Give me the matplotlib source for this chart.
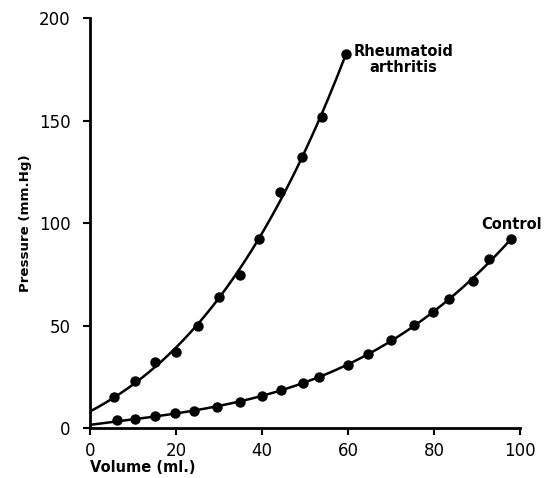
import numpy as np
import matplotlib
matplotlib.use("Agg")
import matplotlib.pyplot as plt

# Data
ra_volume = [5.6, 10.4, 15.1, 20.0, 25.1, 30.0, 34.9, 39.3, 44.1, 49.3, 54.0, 59.5]
ra_pressure = [15.3, 23.0, 32.3, 36.9, 49.8, 63.8, 74.6, 92.2, 115.0, 132.3, 151.9, 182.3]
ra_intercept = 8.0

ctl_volume = [6.2, 10.5, 15.1, 19.8, 24.3, 29.6, 34.8, 39.9, 44.5, 49.5, 53.3,
              60.0, 64.6, 70.1, 75.3, 79.8, 83.6, 89.0, 92.9, 98.0]
ctl_pressure = [3.9, 4.2, 5.9, 7.5, 8.4, 10.1, 12.8, 15.6, 18.5, 21.8, 24.7,
                30.8, 36.1, 42.9, 50.2, 56.7, 62.9, 71.7, 82.4, 92.0]
ctl_intercept = 1.5

x_ticks = [0, 20, 40, 60, 80, 100]
y_ticks = [0, 50, 100, 150, 200]

plt.rcParams['font.family'] = ['DejaVu Sans']

fig = plt.figure(figsize=(5.55, 4.78), dpi=100)
ax = fig.add_axes([0.162, 0.1046, 0.775, 0.8577])

def fitted(vol, pres, intercept, deg=3):
    xv = np.concatenate([[0.0], vol])
    yv = np.concatenate([[intercept], pres])
    w = np.ones_like(xv); w[0] = 5
    c = np.polyfit(xv, yv, deg, w=w)
    xs = np.linspace(0, vol[-1], 200)
    return xs, np.polyval(c, xs)

xs, ys = fitted(ra_volume, ra_pressure, ra_intercept)
ax.plot(xs, ys, color='black', lw=1.8, solid_capstyle='round')
xs, ys = fitted(ctl_volume, ctl_pressure, ctl_intercept)
ax.plot(xs, ys, color='black', lw=1.8, solid_capstyle='round')

ax.plot(ra_volume, ra_pressure, 'o', color='black', ms=6.5)
ax.plot(ctl_volume, ctl_pressure, 'o', color='black', ms=6.5)

ax.text(61.3, 187.5, "Rheumatoid\narthritis", fontsize=10.5, fontweight='bold',
        ha='left', va='top', linespacing=1.15, multialignment='center')
ax.text(91.0, 95.5, "Control", fontsize=10.5, fontweight='bold', ha='left',
        va='bottom', clip_on=False)

ax.set_xlim(0, 100)
ax.set_ylim(0, 200)
ax.set_xticks(x_ticks)
ax.set_yticks(y_ticks)
ax.tick_params(axis='both', direction='out', length=5, width=1.5, labelsize=12)
ax.tick_params(axis='y', pad=9)
ax.tick_params(axis='x', pad=5)
for s in ['top', 'right']:
    ax.spines[s].set_visible(False)
for s in ['left', 'bottom']:
    ax.spines[s].set_linewidth(2)

ax.set_xlabel("Volume (ml.)", fontsize=10.5, fontweight='bold')
ax.xaxis.set_label_coords(0.0, -0.078)
ax.xaxis.label.set_ha('left')
ax.set_ylabel("Pressure (mm.Hg)", fontsize=9.6, fontweight='bold',
              family=['Liberation Sans Narrow', 'DejaVu Sans'])
ax.yaxis.set_label_coords(-0.135, 0.5)

fig.savefig("out.png", dpi=100)
